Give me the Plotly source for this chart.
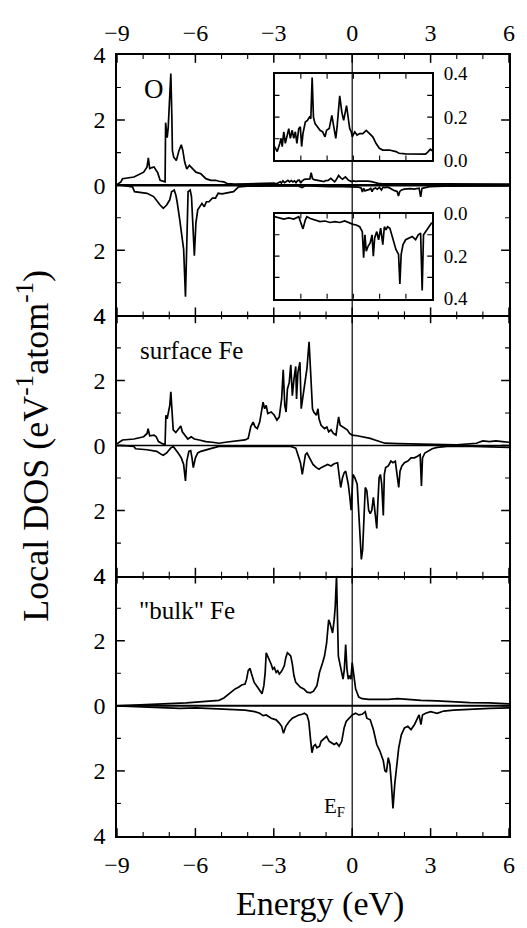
import plotly.graph_objects as go

# ---------------- data ----------------
o_up_E = [-9.0, -8.85, -8.79, -8.35, -7.98, -7.85, -7.80, -7.75, -7.66, -7.58, -7.50, -7.45, -7.35, -7.16,
          -7.14, -7.08, -7.04, -6.98, -6.94, -6.90, -6.88, -6.83, -6.73, -6.63, -6.54, -6.48, -6.41, -6.33,
          -6.23, -6.10, -5.98, -5.79, -5.60, -5.41, -5.23, -5.10, -4.91, -4.79, -4.5, -4.0, -3.5, -3.2,
          -3.00, -2.90, -2.80, -2.75, -2.71, -2.65, -2.59, -2.52, -2.46, -2.40, -2.33, -2.27, -2.21, -2.15,
          -2.08, -2.02, -1.97, -1.92, -1.83, -1.75, -1.67, -1.62, -1.57, -1.52, -1.46, -1.37, -1.27, -1.17,
          -1.08, -1.02, -0.92, -0.82, -0.74, -0.67, -0.62, -0.52, -0.44, -0.37, -0.26, -0.20, -0.14, -0.08,
          -0.04, 0.05, 0.14, 0.24, 0.36, 0.49, 0.61, 0.74, 0.86, 0.99, 1.12, 1.37, 1.62, 1.74, 1.99, 2.24,
          2.75, 2.85, 2.93, 3.0, 3.5, 4.5, 5.5, 6.0]
o_up = [0.02, 0.10, 0.20, 0.25, 0.40, 0.56, 0.84, 0.51, 0.54, 0.56, 0.45, 0.40, 0.15, 0.10,
        1.92, 1.46, 1.77, 2.68, 3.43, 2.07, 1.06, 0.86, 0.76, 1.06, 1.24, 1.06, 0.71, 0.50,
        0.61, 0.50, 0.40, 0.35, 0.20, 0.15, 0.15, 0.12, 0.10, 0.05, 0.03, 0.04, 0.05, 0.06,
        0.064, 0.041, 0.079, 0.102, 0.064, 0.132, 0.079, 0.109, 0.147, 0.102, 0.139, 0.102, 0.132, 0.079,
        0.147, 0.155, 0.064, 0.124, 0.177, 0.185, 0.200, 0.192, 0.382, 0.200, 0.170, 0.155, 0.139, 0.132,
        0.109, 0.139, 0.147, 0.208, 0.155, 0.102, 0.155, 0.298, 0.223, 0.185, 0.253, 0.185, 0.147, 0.132,
        0.109, 0.132, 0.117, 0.124, 0.124, 0.139, 0.124, 0.109, 0.079, 0.056, 0.048, 0.048, 0.041, 0.033, 0.030, 0.029,
        0.029, 0.041, 0.052, 0.045, 0.03, 0.03, 0.03, 0.03]

o_dn_E = [-9.0, -8.85, -8.41, -8.33, -7.85, -7.60, -7.35, -7.23, -7.10, -6.98, -6.91, -6.81, -6.75, -6.70,
          -6.60, -6.50, -6.45, -6.38, -6.33, -6.28, -6.20, -6.15, -6.10, -6.04, -5.98, -5.91, -5.83, -5.75,
          -5.66, -5.58, -5.48, -5.35, -5.23, -5.13, -4.98, -4.85, -4.73, -4.54, -4.45, -4.35, -4.0, -3.5,
          -3.00, -2.84, -2.65, -2.46, -2.27, -2.08, -2.02, -1.92, -1.83, -1.77, -1.64, -1.46, -1.27, -1.08,
          -0.89, -0.70, -0.52, -0.33, -0.14, -0.01, 0.11, 0.24, 0.34, 0.39, 0.44, 0.49, 0.56, 0.64, 0.71,
          0.76, 0.81, 0.89, 0.96, 1.04, 1.12, 1.18, 1.24, 1.30, 1.39, 1.49, 1.62, 1.72, 1.77, 1.82, 1.89,
          1.99, 2.12, 2.24, 2.37, 2.47, 2.56, 2.62, 2.67, 2.75, 2.87, 2.97, 3.5, 4.5, 6.0]
o_dn = [0.0, 0.0, 0.05, 0.20, 0.25, 0.35, 0.61, 0.71, 0.61, 0.45, 0.20, 0.15, 0.30, 0.51,
        1.06, 1.57, 1.97, 3.43, 1.77, 0.20, 0.15, 0.35, 1.16, 2.17, 1.16, 0.76, 0.66, 0.56,
        0.66, 0.51, 0.51, 0.40, 0.40, 0.25, 0.27, 0.25, 0.23, 0.20, 0.13, 0.05, 0.03, 0.02,
        0.015, 0.020, 0.026, 0.020, 0.026, 0.015, 0.038, 0.072, 0.031, 0.015, 0.023, 0.031, 0.038, 0.035,
        0.042, 0.038, 0.042, 0.035, 0.046, 0.051, 0.054, 0.062, 0.085, 0.208, 0.100, 0.177, 0.154, 0.138, 0.100,
        0.200, 0.115, 0.085, 0.123, 0.069, 0.146, 0.062, 0.077, 0.062, 0.069, 0.115, 0.169, 0.192, 0.331, 0.192, 0.146,
        0.123, 0.115, 0.108, 0.123, 0.100, 0.092, 0.361, 0.100, 0.085, 0.062, 0.046, 0.03, 0.025, 0.02]

sf_up_E = [-9.0, -8.85, -8.79, -8.35, -7.98, -7.85, -7.81, -7.75, -7.66, -7.58, -7.50, -7.41, -7.23, -7.16,
           -7.13, -7.08, -7.03, -6.98, -6.94, -6.90, -6.85, -6.75, -6.66, -6.56, -6.50, -6.41, -6.29, -6.16,
           -6.04, -5.85, -5.60, -5.35, -5.10, -4.85, -4.60, -4.35, -4.10, -3.98, -3.88, -3.79, -3.72, -3.63,
           -3.54, -3.41, -3.35, -3.29, -3.23, -3.10, -2.98, -2.88, -2.79, -2.70, -2.64, -2.58, -2.53, -2.48,
           -2.41, -2.35, -2.29, -2.23, -2.16, -2.13, -2.08, -2.00, -1.95, -1.88, -1.80, -1.73, -1.65, -1.56,
           -1.52, -1.47, -1.37, -1.31, -1.27, -1.19, -1.06, -0.97, -0.90, -0.81, -0.72, -0.62, -0.52, -0.46,
           -0.37, -0.27, -0.19, -0.10, 0.00, 0.19, 0.44, 0.69, 0.87, 1.06, 1.25, 1.75, 2.50, 3.25, 4.00,
           4.75, 5.00, 5.25, 5.50, 5.75, 6.0]
sf_up = [0.05, 0.12, 0.17, 0.20, 0.27, 0.37, 0.52, 0.30, 0.30, 0.32, 0.27, 0.12, 0.04, 0.04,
         0.93, 0.82, 1.03, 1.23, 1.65, 1.03, 0.48, 0.40, 0.48, 0.60, 0.42, 0.32, 0.20, 0.27,
         0.20, 0.17, 0.12, 0.10, 0.07, 0.10, 0.12, 0.14, 0.17, 0.22, 0.58, 0.72, 0.58, 0.52,
         0.72, 1.33, 1.13, 1.23, 0.98, 1.03, 0.93, 0.78, 0.88, 1.43, 2.33, 1.23, 1.03, 1.73,
         1.93, 2.48, 1.53, 2.03, 2.43, 1.43, 2.23, 2.56, 1.13, 1.53, 2.03, 2.38, 3.19, 1.68,
         1.13, 1.03, 0.93, 1.13, 0.82, 0.62, 0.52, 0.57, 0.42, 0.48, 0.37, 0.32, 0.88, 0.62,
         0.57, 0.52, 0.48, 0.37, 0.32, 0.30, 0.27, 0.22, 0.17, 0.12, 0.07, 0.06, 0.04, 0.02, 0.02,
         0.07, 0.14, 0.12, 0.14, 0.12, 0.10]

sf_dn_E = [-9.0, -8.85, -8.35, -8.29, -7.85, -7.48, -7.29, -7.23, -7.10, -6.95, -6.85, -6.75, -6.66, -6.54,
           -6.45, -6.38, -6.33, -6.25, -6.18, -6.13, -6.08, -6.00, -5.91, -5.79, -5.60, -5.35, -5.10, -4.73,
           -4.10, -3.48, -2.85, -2.35, -2.16, -2.08, -1.98, -1.91, -1.85, -1.79, -1.73, -1.62, -1.50, -1.37,
           -1.27, -1.19, -1.06, -0.94, -0.81, -0.69, -0.56, -0.50, -0.44, -0.37, -0.31, -0.25, -0.15, -0.09,
           -0.04, 0.03, 0.10, 0.19, 0.25, 0.30, 0.35, 0.40, 0.45, 0.50, 0.56, 0.63, 0.69, 0.75, 0.81, 0.88,
           0.94, 0.98, 1.03, 1.08, 1.13, 1.19, 1.23, 1.28, 1.38, 1.48, 1.56, 1.65, 1.73, 1.78, 1.83, 1.90,
           2.00, 2.13, 2.25, 2.38, 2.50, 2.60, 2.65, 2.69, 2.78, 2.90, 3.06, 3.25, 3.63, 4.25, 5.00, 5.75, 6.0]
sf_dn = [0.0, 0.0, 0.03, 0.10, 0.13, 0.18, 0.28, 0.30, 0.23, 0.08, 0.03, 0.13, 0.23, 0.38,
         0.58, 1.09, 0.48, 0.18, 0.16, 0.38, 0.68, 0.38, 0.23, 0.18, 0.13, 0.08, 0.03, 0.02,
         0.02, 0.03, 0.04, 0.03, 0.08, 0.28, 0.53, 0.89, 0.58, 0.28, 0.23, 0.38, 0.58, 0.68,
         0.73, 0.68, 0.63, 0.58, 0.63, 0.56, 0.53, 0.89, 1.29, 0.99, 0.84, 0.79, 1.19, 1.59,
         1.99, 0.89, 0.99, 1.19, 2.19, 2.80, 3.50, 3.20, 2.39, 1.29, 1.39, 1.99, 2.09, 1.99, 1.59, 2.09,
         2.55, 1.79, 0.99, 0.89, 1.19, 2.15, 0.89, 0.68, 0.63, 0.48, 0.53, 0.48, 0.89, 1.29, 0.79, 0.63,
         0.53, 0.48, 0.38, 0.38, 0.33, 0.28, 1.24, 0.38, 0.23, 0.18, 0.10, 0.06, 0.03, 0.02, 0.03, 0.04, 0.06]

bk_up_E = [-9.0, -8.35, -7.85, -7.35, -6.85, -6.35, -5.85, -5.35, -5.10, -4.91, -4.73, -4.60, -4.48, -4.35,
           -4.23, -4.10, -4.04, -3.98, -3.91, -3.85, -3.75, -3.66, -3.54, -3.45, -3.38, -3.33, -3.29, -3.23,
           -3.16, -3.10, -3.04, -2.98, -2.91, -2.85, -2.79, -2.73, -2.66, -2.60, -2.54, -2.48, -2.41, -2.35,
           -2.29, -2.23, -2.16, -2.10, -1.98, -1.85, -1.73, -1.60, -1.48, -1.35, -1.25, -1.13, -1.06, -0.98,
           -0.90, -0.85, -0.80, -0.75, -0.69, -0.65, -0.60, -0.56, -0.53, -0.48, -0.40, -0.35, -0.30, -0.25,
           -0.20, -0.15, -0.10, -0.05, 0.00, 0.06, 0.13, 0.25, 0.38, 0.63, 1.00, 1.38, 1.75, 2.13, 2.63,
           3.25, 3.88, 4.50, 5.25, 6.0]
bk_up = [0.0, 0.02, 0.04, 0.06, 0.07, 0.09, 0.12, 0.14, 0.17, 0.24, 0.37, 0.44, 0.52, 0.57,
         0.64, 0.67, 0.82, 1.08, 1.15, 0.98, 0.72, 0.62, 0.47, 0.37, 0.62, 1.03, 1.63, 1.53,
         1.43, 1.28, 1.13, 1.18, 1.03, 1.08, 0.98, 1.03, 1.13, 1.23, 1.48, 1.63, 1.58, 1.53,
         1.28, 0.93, 0.72, 0.67, 0.57, 0.52, 0.42, 0.40, 0.45, 0.62, 1.03, 1.33, 1.53, 1.93,
         2.64, 2.54, 2.34, 2.24, 2.64, 3.04, 4.0, 2.54, 1.53, 1.33, 1.03, 0.82, 1.13, 1.88,
         1.13, 0.82, 0.93, 0.82, 1.33, 0.93, 0.52, 0.27, 0.22, 0.20, 0.19, 0.20, 0.22, 0.19, 0.17,
         0.15, 0.12, 0.10, 0.09, 0.06]

bk_dn_E = [-9.0, -7.85, -7.10, -6.60, -5.98, -5.35, -4.73, -4.10, -3.73, -3.54, -3.41, -3.29, -3.10, -2.91,
           -2.79, -2.70, -2.63, -2.54, -2.41, -2.29, -2.16, -2.04, -1.91, -1.83, -1.73, -1.66, -1.60, -1.54,
           -1.48, -1.41, -1.35, -1.25, -1.19, -1.06, -0.98, -0.88, -0.78, -0.69, -0.60, -0.50, -0.40, -0.31,
           -0.23, -0.13, 0.00, 0.13, 0.25, 0.38, 0.50, 0.56, 0.69, 0.81, 0.94, 1.06, 1.19, 1.25, 1.31, 1.38,
           1.44, 1.50, 1.56, 1.63, 1.69, 1.78, 1.88, 2.00, 2.13, 2.25, 2.38, 2.50, 2.56, 2.63, 2.69, 2.81,
           3.00, 3.25, 3.50, 3.88, 4.50, 5.25, 6.0]
bk_dn = [0.0, 0.03, 0.06, 0.08, 0.06, 0.08, 0.10, 0.13, 0.18, 0.23, 0.30, 0.28, 0.38, 0.43,
         0.53, 0.63, 0.84, 0.63, 0.48, 0.38, 0.33, 0.28, 0.26, 0.23, 0.28, 0.48, 0.99, 1.44,
         1.24, 1.19, 1.29, 1.24, 1.09, 0.99, 0.94, 1.09, 1.14, 1.19, 1.14, 1.24, 1.09, 0.68,
         0.48, 0.38, 0.28, 0.23, 0.28, 0.26, 0.18, 0.38, 0.43, 0.73, 1.19, 1.39, 1.69, 1.99, 2.04, 1.59,
         1.79, 2.39, 3.15, 2.39, 1.89, 1.29, 0.89, 0.68, 0.63, 0.73, 0.58, 0.38, 0.28, 0.58, 0.28, 0.23,
         0.18, 0.23, 0.16, 0.13, 0.10, 0.08, 0.06]

x_major = [-9, -6, -3, 0, 3, 6]
x_minor = [-8, -7, -5, -4, -2, -1, 1, 2, 4, 5]
y_major = [-4, -2, 0, 2, 4]
y_ticktext = ["4", "2", "0", "2", "4"]
y_minor = [-3, -1, 1, 3]
inset_x_ticks = [-2, -1, 0, 1, 2]
inset_y_ticks = [0.1, 0.2, 0.3]
inset_tickvals = [0.0, 0.2, 0.4]
inset_ticktext = ["0.0", "0.2", "0.4"]
panel_labels = ["O", "surface Fe", "\"bulk\" Fe"]

# ---------------- figure ----------------
FONT = "Liberation Serif, Times New Roman, serif"
LW = 1.7
fig = go.Figure()

def neg(v):
    return [-a for a in v]

def line_trace(xv, yv, xa, ya):
    return go.Scatter(x=xv, y=yv, xaxis=xa, yaxis=ya, mode="lines",
                      line=dict(color="black", width=LW), hoverinfo="skip")

fig.add_trace(line_trace(o_up_E, o_up, "x3", "y3"))
fig.add_trace(line_trace(o_dn_E, neg(o_dn), "x3", "y3"))
fig.add_trace(line_trace(sf_up_E, sf_up, "x2", "y2"))
fig.add_trace(line_trace(sf_dn_E, neg(sf_dn), "x2", "y2"))
fig.add_trace(line_trace(bk_up_E, bk_up, "x", "y"))
fig.add_trace(line_trace(bk_dn_E, neg(bk_dn), "x", "y"))
fig.add_trace(line_trace(o_up_E, o_up, "x4", "y4"))
fig.add_trace(line_trace(o_dn_E, o_dn, "x5", "y5"))

tickfont = dict(family=FONT, size=24, color="black")
frame = dict(showline=True, linewidth=1.6, linecolor="black",
             showgrid=False, zeroline=False, ticks="")

common_x = dict(range=[-9, 6], tickmode="array", tickvals=x_major, tickfont=tickfont, **frame)
common_y = dict(range=[-4, 4], tickmode="array", tickvals=y_major, ticktext=y_ticktext,
                tickfont=tickfont, ticklabelstandoff=5, mirror=True, **frame)

d = 1 / 3
inset_x_dom = [0.402, 0.804]
inset_x = dict(range=[-3, 3], showticklabels=False, domain=inset_x_dom, mirror=True, **frame)
inset_y = dict(tickmode="array", tickvals=inset_tickvals, ticktext=inset_ticktext, side="right",
               tickfont=dict(family=FONT, size=19, color="black"), ticklabelstandoff=6,
               mirror=True, **frame)

fig.update_layout(
    width=519, height=920,
    margin=dict(l=109, r=12, t=34, b=92),
    paper_bgcolor="white", plot_bgcolor="white",
    showlegend=False,
    # panel borders: each shared border is drawn once (by the panel above it)
    xaxis=dict(**common_x, anchor="y", domain=[0, 1], ticklabelstandoff=6, mirror=False),
    xaxis2=dict(**common_x, anchor="y2", domain=[0, 1], showticklabels=False, mirror=False),
    xaxis3=dict(**common_x, anchor="y3", domain=[0, 1], side="top", ticklabelstandoff=3, mirror=True),
    yaxis=dict(**common_y, anchor="x", domain=[0, d]),
    yaxis2=dict(**common_y, anchor="x2", domain=[d, 2 * d]),
    yaxis3=dict(**common_y, anchor="x3", domain=[2 * d, 1]),
    xaxis4=dict(**inset_x, anchor="y4"),
    yaxis4=dict(**inset_y, anchor="x4", domain=[0.865, 0.976], range=[0, 0.4]),
    xaxis5=dict(**inset_x, anchor="y5"),
    yaxis5=dict(**inset_y, anchor="x5", domain=[0.688, 0.797], range=[0.4, 0]),
)

# ---- inward tick marks, placed through each axis (axis ticks drawn as shapes) ----
def add_ticks(xa, ya, xvals, yvals, xlen, ylen, width):
    for v in xvals:
        for a, b in ((0, xlen), (1, 1 - xlen)):
            fig.add_shape(type="line", xref=xa, yref=ya + " domain", x0=v, x1=v, y0=a, y1=b,
                          line=dict(color="black", width=width), layer="above")
    for v in yvals:
        for a, b in ((0, ylen), (1, 1 - ylen)):
            fig.add_shape(type="line", xref=xa + " domain", yref=ya, x0=a, x1=b, y0=v, y1=v,
                          line=dict(color="black", width=width), layer="above")

panel_h = 264.7
plot_w = 398.0
for xa, ya in (("x", "y"), ("x2", "y2"), ("x3", "y3")):
    add_ticks(xa, ya, x_major, y_major[1:-1], 8 / panel_h, 8 / plot_w, 1.5)
    add_ticks(xa, ya, x_minor, y_minor, 4 / panel_h, 4 / plot_w, 1.1)
for xa, ya in (("x4", "y4"), ("x5", "y5")):
    add_ticks(xa, ya, inset_x_ticks, inset_y_ticks, 5 / 88.0, 5 / 160.0, 1.1)

# zero lines and Fermi level
for yr, w in (("y", 2.0), ("y2", 1.3), ("y3", 2.5)):
    fig.add_shape(type="line", xref="paper", x0=0, x1=1, yref=yr, y0=0, y1=0,
                  line=dict(color="black", width=w), layer="above")
fig.add_shape(type="line", xref="x", x0=0, x1=0, yref="paper", y0=0, y1=1,
              line=dict(color="black", width=1.2), layer="above")

lab_font = dict(family=FONT, size=25, color="black")
fig.add_annotation(x=-7.57, y=2.95, xref="x3", yref="y3", text=panel_labels[0], showarrow=False,
                   font=dict(family=FONT, size=27, color="black"))
fig.add_annotation(x=-8.2, y=2.92, xref="x2", yref="y2", text=panel_labels[1], showarrow=False,
                   xanchor="left", font=lab_font)
fig.add_annotation(x=-8.25, y=2.92, xref="x", yref="y", text=panel_labels[2], showarrow=False,
                   xanchor="left", font=lab_font)
fig.add_annotation(x=-0.2, y=-3.1, xref="x", yref="y", text="E<sub>F</sub>", showarrow=False,
                   xanchor="right", font=dict(family=FONT, size=21, color="black"))

fig.add_annotation(x=0.518, y=-0.087, xref="paper", yref="paper", text="Energy (eV)", showarrow=False,
                   xanchor="center", yanchor="middle", font=dict(family=FONT, size=34, color="black"))
fig.add_annotation(x=-0.2136, y=0.5, xref="paper", yref="paper",
                   text="Local DOS (eV<sup>-1</sup>atom<sup>-1</sup>)", showarrow=False, textangle=-90,
                   xanchor="center", yanchor="middle", font=dict(family=FONT, size=36, color="black"))

fig.write_html("out.html")
